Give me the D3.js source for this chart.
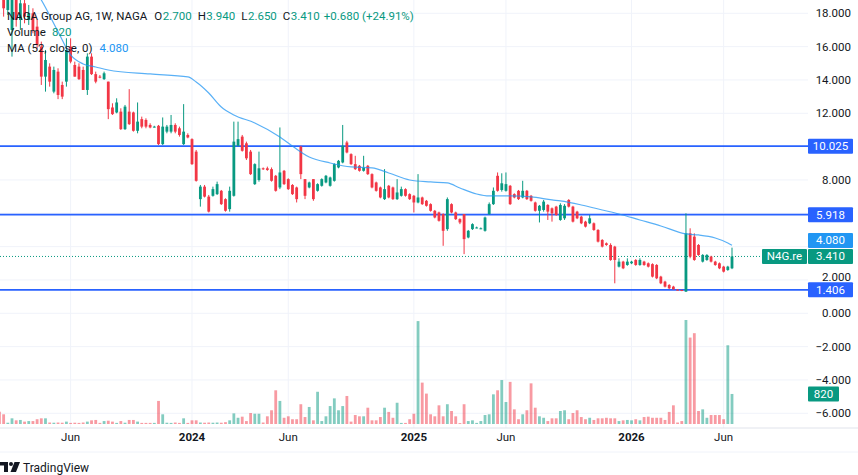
<!DOCTYPE html>
<html>
<head>
<meta charset="utf-8">
<script src="https://cdn.jsdelivr.net/npm/d3@7"></script>
<style>
  body { margin: 0; background: #fff; }
  svg { display: block; font-family: Roboto, "Noto Sans", sans-serif; }
</style>
</head>
<body>
<div class="visHolder"></div>
<script>
// weekly candles, oldest first
const opens = [
  19.6,19.1,18.2,17.0,18.9,17.6,18.6,17.6,18.0,17.2,16.0,14.2,14.8,13.3,14.5,13.7,13.9,16.0,14.9,14.8,
  14.6,13.4,15.4,14.35,14.2,14.05,13.9,12.35,12.05,12.1,11.05,12.1,12.05,10.95,11.65,11.6,11.3,11.2,11.25,10.15,
  10.9,10.9,11.3,11.1,10.15,10.7,10.45,9.7,6.85,7.6,7.0,7.05,7.15,7.35,6.85,6.25,7.05,10.05,10.6,10.2,
  9.7,7.75,8.0,8.7,8.7,8.65,8.25,7.55,8.55,8.05,7.7,7.55,10.0,8.05,7.55,8.05,7.35,7.65,7.85,7.65,
  7.95,8.75,9.05,10.25,9.55,8.95,8.85,8.55,8.85,8.35,7.85,7.55,6.85,7.65,7.55,6.85,7.05,7.45,7.15,7.05,
  6.65,6.95,6.75,6.55,6.15,6.05,5.95,5.05,6.55,6.05,5.65,5.95,4.55,5.05,5.15,5.1,4.95,5.95,6.55,8.25,
  7.4,7.35,7.65,7.15,7.35,6.95,7.35,7.05,6.65,6.15,6.2,6.5,6.3,6.4,5.6,5.7,6.8,6.4,6.1,5.8,
  5.5,5.4,5.4,5.0,4.4,4.2,4.1,4.0,2.8,3.1,2.9,3.0,3.2,2.9,3.1,3.0,2.95,2.9,2.2,1.9,
  1.7,1.6,1.42,1.4,1.3,4.8,4.6,4.1,3.1,3.2,3.4,3.1,3.0,2.8,2.6,2.70
];
const highs = [
  20.2,19.6,19.4,19.6,19.5,19.4,19.2,18.5,18.3,17.6,16.3,15.8,15.0,14.8,14.7,13.9,16.5,16.5,15.1,15.0,
  14.8,15.6,15.6,14.5,14.3,14.5,13.9,12.6,12.9,12.3,12.5,13.45,12.1,12.65,11.8,11.7,11.4,11.25,11.3,11.75,
  11.3,11.9,11.4,11.2,12.55,10.8,10.5,9.8,7.7,7.7,7.1,7.6,7.9,7.4,6.9,7.6,11.5,11.5,10.7,10.3,
  9.8,9.0,9.7,8.75,8.8,8.75,8.3,11.15,8.6,8.1,7.75,7.6,10.05,8.05,7.9,8.05,7.8,8.1,8.3,8.2,
  9.0,9.2,11.3,10.35,9.6,9.45,8.9,9.45,8.9,8.4,7.9,7.6,8.65,7.7,7.6,8.05,7.6,7.5,7.2,7.1,
  8.35,7.0,6.8,6.6,6.2,6.1,6.0,6.95,6.6,6.1,5.7,5.95,5.0,5.4,5.2,5.15,5.8,6.65,7.55,8.45,
  8.4,8.45,7.7,7.2,7.4,7.95,7.4,7.1,6.7,6.5,6.8,6.55,6.35,6.45,6.6,6.55,6.85,6.45,6.15,5.85,
  5.55,5.9,5.45,5.05,4.45,4.25,4.2,4.05,3.3,3.15,3.3,3.15,3.25,3.3,3.15,3.05,3.0,2.95,2.25,1.95,
  1.75,1.65,1.45,1.42,6.0,5.1,4.8,4.15,3.55,3.55,3.45,3.15,3.05,2.85,2.85,3.94
];
const lows = [
  18.9,17.8,17.9,15.4,17.2,17.0,17.4,17.3,16.8,15.9,13.7,13.3,13.6,13.2,12.85,12.85,13.6,15.0,14.2,14.0,
  13.4,13.1,14.3,13.8,14.1,14.0,11.65,11.9,12.0,11.0,11.0,11.3,10.9,10.8,11.1,11.1,11.1,11.15,10.1,10.1,
  10.8,10.8,10.8,10.6,10.1,10.5,8.9,7.9,6.4,6.95,6.05,7.0,7.1,6.5,6.1,6.1,7.0,10.0,9.7,9.2,
  8.3,7.7,7.9,8.6,8.55,7.9,7.3,7.45,7.7,7.4,7.1,6.65,8.05,6.85,7.5,6.75,7.3,7.6,7.8,7.6,
  7.9,8.7,9.0,9.6,8.9,8.6,8.5,8.5,8.3,7.5,7.3,6.9,6.8,6.9,6.8,6.8,7.0,7.0,6.8,6.05,
  6.6,6.5,6.4,6.1,5.7,5.5,4.05,4.95,6.0,5.6,5.35,3.55,4.5,5.0,5.1,5.05,4.9,5.9,6.5,7.3,
  7.3,7.3,6.5,6.9,6.8,6.9,6.8,6.7,6.1,5.45,6.1,5.6,5.5,5.85,5.55,5.6,6.35,5.45,5.65,5.35,
  5.15,5.35,4.95,4.25,3.95,4.05,3.15,1.8,2.75,2.65,2.85,2.95,2.85,2.85,2.85,2.75,2.15,2.05,1.75,1.55,
  1.45,1.4,1.38,1.33,1.28,3.3,3.15,3.45,3.05,3.15,3.05,2.85,2.65,2.45,2.55,2.65
];
const closes = [
  19.1,18.3,18.9,18.9,17.6,18.6,17.8,18.0,17.0,16.1,14.2,15.2,13.9,14.6,13.1,13.0,15.8,15.1,14.2,14.05,
  13.4,15.4,14.35,13.9,14.15,14.4,12.25,11.95,12.65,11.05,12.4,11.35,10.95,11.5,11.2,11.2,11.15,11.2,10.15,11.2,
  11.2,11.3,10.9,10.7,10.9,10.55,8.95,7.95,7.6,7.0,6.1,7.45,7.75,6.55,6.15,7.35,10.3,10.45,9.75,9.3,
  8.35,8.95,8.7,8.65,8.6,7.95,7.35,8.45,7.75,7.45,7.15,6.85,8.35,7.05,7.85,6.85,7.75,8.05,8.25,8.15,
  8.95,9.15,10.05,9.65,8.95,8.65,8.55,8.75,8.35,7.55,7.35,6.95,7.45,6.95,6.85,7.25,7.45,7.05,6.85,6.65,
  6.95,6.55,6.45,6.15,5.75,5.55,4.95,6.85,6.05,5.65,5.45,4.45,4.95,5.35,5.15,5.1,5.75,6.55,7.35,7.35,
  7.8,7.75,6.55,6.95,6.85,7.35,6.85,6.75,6.15,6.45,6.7,6.1,6.0,5.9,6.5,6.45,6.4,5.5,5.7,5.4,
  5.2,5.7,5.0,4.3,4.0,4.1,3.2,3.2,3.1,2.7,3.1,3.1,2.9,3.2,2.9,2.8,2.2,2.1,1.8,1.6,
  1.5,1.45,1.4,1.36,4.8,3.4,3.2,3.5,3.5,3.5,3.1,2.9,2.7,2.5,2.8,3.41
];
const volumes = [
  336,265,35,155,100,110,65,80,80,130,155,155,40,35,40,35,65,30,35,30,
  40,65,100,110,30,80,90,65,30,80,35,110,110,65,30,30,30,30,630,265,
  35,30,40,30,155,30,100,100,40,35,40,35,40,35,50,100,290,170,200,80,
  300,280,280,40,210,375,920,630,170,210,130,130,540,190,465,100,880,80,210,490,
  700,375,490,765,65,245,210,210,445,100,100,190,445,330,170,580,30,30,130,280,
  2810,1130,830,265,210,510,210,540,355,210,25,540,80,100,30,80,245,265,810,920,
  1200,600,1150,400,130,265,375,1110,445,210,170,80,155,155,355,375,130,300,375,190,
  130,170,110,155,155,170,155,155,80,100,110,100,130,100,190,200,170,170,170,110,
  330,510,40,80,2840,2360,2480,355,400,170,245,245,245,130,2150,820
];

// MA (52, close): bar index -> value
const maIndex  = [8, 10, 14, 17, 20, 23, 26, 36, 45, 47, 50, 53, 56, 61, 67, 69, 74, 79, 84, 89, 93, 98, 103, 107, 110, 114, 117, 122, 127, 132, 134, 139, 144, 148, 153, 158, 164, 167, 171, 174, 175];
const maValues = [19.6, 18.8, 16.9, 15.5, 14.96, 14.78, 14.6, 14.36, 14.18, 13.88, 13.22, 12.38, 11.9, 11.42, 10.58, 10.22, 9.38, 9.02, 8.78, 8.72, 8.42, 8.0, 7.88, 7.82, 7.52, 7.16, 7.04, 7.04, 6.98, 6.8, 6.74, 6.5, 6.2, 5.96, 5.6, 5.24, 4.76, 4.70, 4.52, 4.22, 4.08];

const tickIndex  = [17, 46, 69, 99, 121, 151, 173];
const tickLabels = ['Jun', '2024', 'Jun', '2025', 'Jun', '2026', 'Jun'];
const priceTicks = [18, 16, 14, 12, 10, 8, 6, 4, 2, 0, -2, -4, -6];
const levels = [10.025, 5.918, 1.406];
const lastPrice = 3.410;
const lastMa = 4.080;
const lastVolume = 820;

const w = 858, h = 475;
const plotRight = 808, paneBottom = 428;
const up = '#089981', down = '#f23645', dark = '#131722';

const svg = d3.select('.visHolder')
  .append('svg')
  .attr('width', w)
  .attr('height', h);

const n = closes.length;
const xScale = d3.scaleLinear().domain([0, n - 1]).range([-0.56, 732]);
const yScale = d3.scaleLinear().domain([-6, 18]).range([413.3, 13.3]);
const vScale = d3.scaleLinear().domain([0, 2840]).range([424, 320]);

svg.append('clipPath').attr('id', 'pane')
  .append('rect').attr('x', 0).attr('y', 0).attr('width', plotRight).attr('height', paneBottom);

const pane = svg.append('g').attr('clip-path', 'url(#pane)');

// grid
pane.append('g').selectAll('line').data(priceTicks).join('line')
  .attr('x1', 0).attr('x2', plotRight)
  .attr('y1', d => yScale(d)).attr('y2', d => yScale(d))
  .attr('stroke', '#f0f3fa');
pane.append('g').selectAll('line').data(tickIndex).join('line')
  .attr('x1', d => xScale(d)).attr('x2', d => xScale(d))
  .attr('y1', 0).attr('y2', paneBottom)
  .attr('stroke', '#f0f3fa');

const idx = d3.range(n);
const isUp = i => closes[i] >= opens[i];

// volume
pane.append('g').selectAll('rect').data(idx).join('rect')
  .attr('x', i => xScale(i) - 1.4)
  .attr('width', 2.8)
  .attr('y', i => vScale(volumes[i]))
  .attr('height', i => vScale(0) - vScale(volumes[i]))
  .attr('fill', i => isUp(i) ? up : down)
  .attr('fill-opacity', 0.5);

// level lines
pane.append('g').selectAll('line').data(levels).join('line')
  .attr('x1', 0).attr('x2', plotRight)
  .attr('y1', d => yScale(d)).attr('y2', d => yScale(d))
  .attr('stroke', '#2962ff').attr('stroke-width', 1.8);

// last price dotted line
pane.append('line')
  .attr('x1', 0).attr('x2', 762)
  .attr('y1', yScale(lastPrice)).attr('y2', yScale(lastPrice))
  .attr('stroke', up).attr('stroke-dasharray', '1,2');

// candles
const candles = pane.append('g').selectAll('g').data(idx).join('g');
candles.append('line')
  .attr('x1', i => xScale(i)).attr('x2', i => xScale(i))
  .attr('y1', i => yScale(highs[i])).attr('y2', i => yScale(lows[i]))
  .attr('stroke', i => isUp(i) ? up : down).attr('stroke-width', 1);
candles.append('rect')
  .attr('x', i => xScale(i) - 1.4)
  .attr('width', 2.8)
  .attr('y', i => yScale(Math.max(opens[i], closes[i])))
  .attr('height', i => Math.max(1, Math.abs(yScale(opens[i]) - yScale(closes[i]))))
  .attr('fill', i => isUp(i) ? up : down);

// moving average
const maLine = d3.line()
  .x((d, k) => xScale(maIndex[k]))
  .y(d => yScale(d))
  .curve(d3.curveMonotoneX);
pane.append('path')
  .attr('d', maLine(maValues))
  .attr('fill', 'none')
  .attr('stroke', '#2196f3').attr('stroke-opacity', 0.75).attr('stroke-width', 1.2);

// pane borders
svg.append('line').attr('x1', 0).attr('x2', w).attr('y1', paneBottom).attr('y2', paneBottom).attr('stroke', '#e0e3eb');
svg.append('line').attr('x1', 0).attr('x2', w).attr('y1', 452).attr('y2', 452).attr('stroke', '#f0f3fa');

// price axis labels (the ones under a tag are hidden, like the reference)
const tagged = [...levels, lastMa, lastPrice];
const shown = priceTicks.filter(d => d === 2 || !tagged.some(t => Math.abs(yScale(t) - yScale(d)) < 12));
svg.append('g').selectAll('text').data(shown).join('text')
  .attr('x', 851).attr('y', d => d === 2 ? yScale(d) + 1 : yScale(d) + 4)
  .attr('text-anchor', 'end')
  .attr('font-size', 11.5)
  .attr('fill', dark)
  .text(d => d3.format('.3f')(d).replace('-', '\u2212'));

// time axis labels
svg.append('g').selectAll('text').data(tickIndex).join('text')
  .attr('x', d => xScale(d)).attr('y', 441)
  .attr('text-anchor', 'middle')
  .attr('font-size', 11.5)
  .attr('font-weight', (d, k) => /^\d/.test(tickLabels[k]) ? 700 : 400)
  .attr('fill', dark)
  .text((d, k) => tickLabels[k]);

// axis tags
const tag = (x, y, width, fill, label) => {
  const g = svg.append('g');
  g.append('rect').attr('x', x).attr('y', y - 7.5).attr('width', width).attr('height', 15)
    .attr('fill', fill).attr('rx', 1);
  g.append('text').attr('x', x + width / 2).attr('y', y + 4)
    .attr('text-anchor', 'middle').attr('font-size', 11.5).attr('fill', '#fff')
    .text(label);
};
levels.forEach(v => tag(808, yScale(v), 45, '#2962ff', d3.format('.3f')(v)));
// the MA tag is pushed up so it sits just above the last price tag
tag(808, Math.min(yScale(lastMa), yScale(lastPrice) - 16), 45, '#2196f3', d3.format('.3f')(lastMa));
tag(762, yScale(lastPrice), 45, up, 'N4G.re');
tag(808, yScale(lastPrice), 45, up, d3.format('.3f')(lastPrice));
tag(808, vScale(lastVolume), 31, up, String(lastVolume));

// legend, laid out left to right
const legend = svg.append('g').attr('font-size', 11.5);
const put = (x, y, t, c) => legend.append('text').attr('x', x).attr('y', y).attr('fill', c).text(t);
const width = el => el.node().getComputedTextLength();
let lx = 7;
lx += width(put(lx, 19.5, 'NAGA Group AG, 1W, NAGA', dark)) + 7;
[['O', '2.700'], ['H', '3.940'], ['L', '2.650'], ['C', '3.410']].forEach(([k, v]) => {
  lx += width(put(lx, 19.5, k, dark)) + 0.5;
  lx += width(put(lx, 19.5, v, up)) + 6;
});
put(lx - 2, 19.5, '+0.680 (+24.91%)', up);
const vl = put(7, 36, 'Volume', dark);
put(7 + width(vl) + 6, 36, '820', up);
const ml = put(7, 52, 'MA (52, close, 0)', dark);
put(7 + width(ml) + 7, 52, '4.080', '#2196f3');

// TradingView mark
const logo = svg.append('g').attr('fill', dark);
logo.append('rect').attr('x', 0).attr('y', 462).attr('width', 8).attr('height', 3.5);
logo.append('rect').attr('x', 4).attr('y', 462).attr('width', 4).attr('height', 10);
logo.append('circle').attr('cx', 11).attr('cy', 464).attr('r', 2);
logo.append('path').attr('d', 'M14.5,462 L20,462 L16,472 L10.5,472 Z');
svg.append('text').attr('x', 23).attr('y', 471.5).attr('font-size', 12).attr('fill', dark).text('TradingView');
</script>
</body>
</html>
